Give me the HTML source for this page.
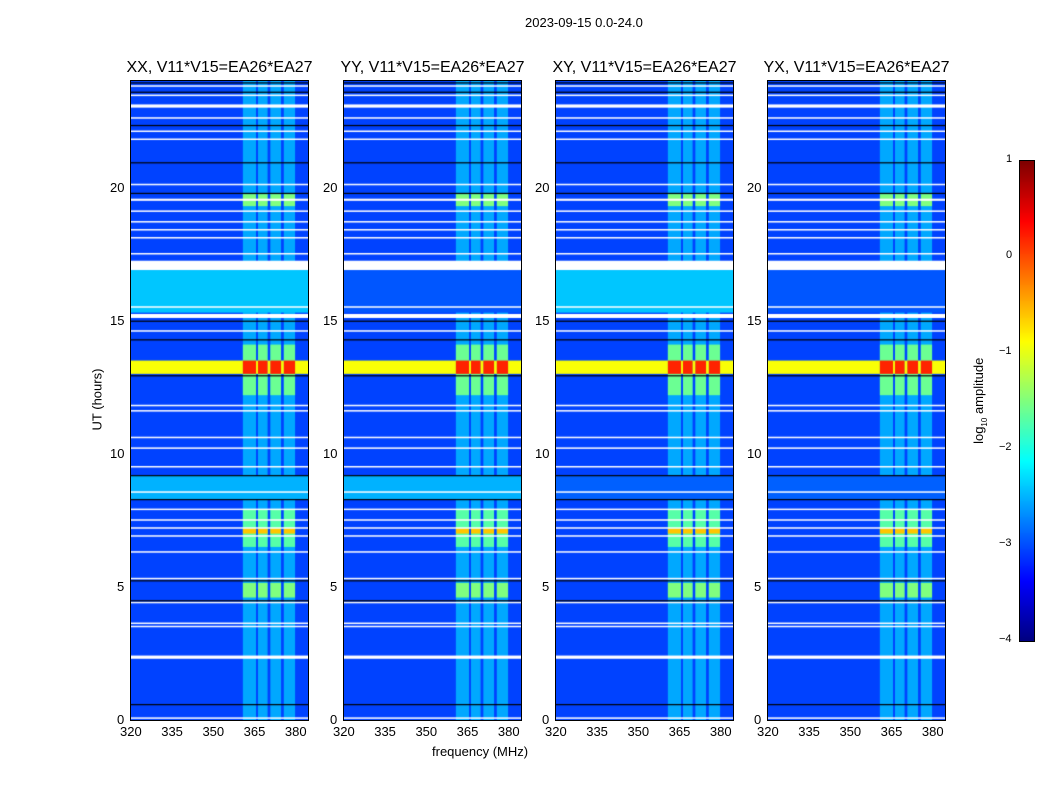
<!DOCTYPE html>
<html><head><meta charset="utf-8"><style>
body{margin:0;background:#fff;font-family:"Liberation Sans",sans-serif;}
#root{position:relative;width:1050px;height:800px;overflow:hidden;background:#fff}
.t{position:absolute;font-size:13px;color:#000;white-space:nowrap}
.pt{position:absolute;font-size:16px;color:#000;white-space:nowrap}
canvas{position:absolute}
</style></head><body>
<div id="root">
<div class="t" style="left:525px;top:15px">2023-09-15 0.0-24.0</div>
<div class="t" style="left:42px;top:392px;transform:rotate(-90deg);transform-origin:center;width:110px;text-align:center">UT (hours)</div>
<div class="t" style="left:432px;top:744px">frequency (MHz)</div>
<canvas id="cb" width="14" height="480" style="left:1019px;top:160px;border:1px solid #000;width:14px;height:480px"></canvas>
<div class="t" style="left:920px;top:392px;transform:rotate(-90deg);width:120px;text-align:center">log<sub style="font-size:8px">10</sub> amplitude</div>
</div>
<script>
const panelTitles=["XX, V11*V15=EA26*EA27","YY, V11*V15=EA26*EA27","XY, V11*V15=EA26*EA27","YX, V11*V15=EA26*EA27"];
const panelX=[131,344,556,768];
const freqTicks=[320,335,350,365,380];
const hourTicks=[0,5,10,15,20];
const cbTicks=[1,0,-1,-2,-3,-4];
const flaggedHours=[[0.05,0.1],[2.3,2.42],[3.5,3.54],[3.62,3.66],[4.4,4.44],[5.3,5.34],[6.3,6.34],[6.9,6.94],[7.2,7.24],[7.5,7.54],[7.9,7.94],[8.55,8.59],[9.5,9.54],[10.2,10.24],[10.6,10.64],[11.6,11.64],[11.8,11.84],[14.6,14.64],[15.1,15.25],[15.5,15.54],[16.9,17.25],[17.5,17.54],[18.1,18.14],[18.4,18.44],[18.7,18.74],[19.1,19.14],[19.5,19.58],[20.1,20.14],[21.8,21.84],[22.1,22.14],[22.6,22.64],[23.0,23.12],[23.45,23.49],[23.8,23.84]];
const blackHours=[0.6,4.5,5.25,8.3,9.2,12.95,14.3,15.0,19.8,20.95,22.35,23.6,23.95];
const rfiFreqs=[[360.7,365.5],[366.2,369.7],[370.7,374.6],[375.6,379.7]];
const bandSegHours=[[4.6,5.15],[6.5,7.9],[12.2,14.1],[19.3,19.75]];
const bandSegLevels=[-1.5,-1.7,-1.6,-1.5];
const hotSegHours=[[7.0,7.2],[13.0,13.5]];
const hotSegLevels=[-0.6,0.2];
const wideBandHours=[[13.0,13.5],[8.3,9.2],[15.3,16.9]];
const wideBandLevels=[[-0.9,-0.9,-0.9,-0.9],[-2.5,-2.5,-2.9,-2.9],[-2.4,-2.95,-2.4,-2.95]];
const baseLevel=-3.05, faintBandLevel=-2.55;

const X0=320,X1=384.4,PW=177,Y0=81,Y1=720;
function jet(v){let t=(v+4)/5;t=Math.max(0,Math.min(1,t));
 const f=x=>Math.max(0,Math.min(1,x));
 const r=f(1.5-Math.abs(4*t-3)),g=f(1.5-Math.abs(4*t-2)),b=f(1.5-Math.abs(4*t-1));
 return `rgb(${r*255|0},${g*255|0},${b*255|0})`;}
const hy=h=>Y1-h/24*(Y1-Y0);
const root=document.getElementById('root');
panelX.forEach((px,pi)=>{
 const fx=f=>(f-X0)/(X1-X0)*PW;
 const c=document.createElement('canvas');c.width=PW;c.height=Y1-Y0;
 c.style.left=px+'px';c.style.top=Y0+'px';
 
 
 root.appendChild(c);
 const g=c.getContext('2d');const yy=h=>hy(h)-Y0;
 g.fillStyle=jet(baseLevel);g.fillRect(0,0,PW,Y1-Y0);
 g.fillStyle=jet(faintBandLevel);
 rfiFreqs.forEach(f=>g.fillRect(fx(f[0]),0,fx(f[1])-fx(f[0]),Y1-Y0));
 wideBandHours.forEach((h,i)=>{g.fillStyle=jet(wideBandLevels[i][pi]);g.fillRect(0,yy(h[1]),PW,yy(h[0])-yy(h[1]));});
 bandSegHours.forEach((h,i)=>{g.fillStyle=jet(bandSegLevels[i]);rfiFreqs.forEach(f=>g.fillRect(fx(f[0]),yy(h[1]),fx(f[1])-fx(f[0]),yy(h[0])-yy(h[1])));});
 hotSegHours.forEach((h,i)=>{g.fillStyle=jet(hotSegLevels[i]);rfiFreqs.forEach(f=>g.fillRect(fx(f[0]),yy(h[1]),fx(f[1])-fx(f[0]),yy(h[0])-yy(h[1])));});
 g.fillStyle='#fff';flaggedHours.forEach(h=>g.fillRect(0,yy(h[1]),PW,Math.max(1.5,yy(h[0])-yy(h[1]))));
 g.fillStyle='#000';blackHours.forEach(h=>g.fillRect(0,yy(h),PW,1.2));
 const fr=document.createElement('div');
 
 
 fr.style.cssText=`position:absolute;left:${px-1}px;top:${Y0-1}px;width:${PW}px;height:${Y1-Y0}px;border:1px solid #000`;
 root.appendChild(fr);
 const tt=document.createElement('div');tt.className='pt';tt.textContent=panelTitles[pi];
 
 
 tt.style.left=(px+PW/2-97)+'px';tt.style.top='59px';tt.style.width='194px';tt.style.textAlign='center';
 root.appendChild(tt);
 freqTicks.forEach(f=>{const l=document.createElement('div');l.className='t';l.textContent=f;
  
  
  l.style.left=(px+fx(f)-11)+'px';l.style.top='724px';root.appendChild(l);});
 hourTicks.forEach(h=>{const l=document.createElement('div');l.className='t';l.textContent=h;
  
  
  l.style.left=(px-6-(h>=10?15:8))+'px';l.style.top=(hy(h)-8)+'px';root.appendChild(l);});
});
const cb=document.getElementById('cb').getContext('2d');
for(let y=0;y<480;y++){cb.fillStyle=jet(1-y/480*5);cb.fillRect(0,y,14,1);}
cbTicks.forEach(v=>{const l=document.createElement('div');l.className='t';l.style.fontSize='11px';
 l.textContent=v<0?'\u2212'+(-v):v;
 
 
 l.style.left=(v<0?999:1006)+'px';l.style.top=(160+(1-v)/5*480-7)+'px';root.appendChild(l);});
</script>
</body></html>
